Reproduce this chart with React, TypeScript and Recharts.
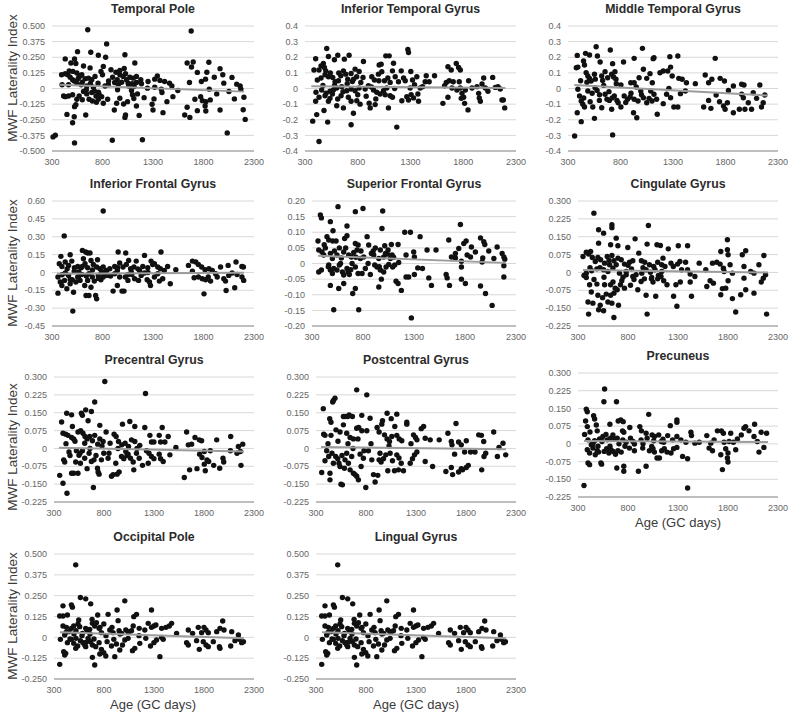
import React from "react";
import { ScatterChart, Scatter, XAxis, YAxis, CartesianGrid } from "recharts";

// age on x (GC days), MWF laterality index on y
const ageTicks = [300, 800, 1300, 1800, 2300];

const tpTicks = [-0.5, -0.375, -0.25, -0.125, 0, 0.125, 0.25, 0.375, 0.5];
const tenthTicks = [-0.4, -0.3, -0.2, -0.1, 0, 0.1, 0.2, 0.3, 0.4];
const ifgTicks = [-0.45, -0.3, -0.15, 0, 0.15, 0.3, 0.45, 0.6];
const sfgTicks = [-0.2, -0.15, -0.1, -0.05, 0, 0.05, 0.1, 0.15, 0.2];
const quarterTicks = [-0.225, -0.15, -0.075, 0, 0.075, 0.15, 0.225, 0.3];
const opTicks = [-0.25, -0.125, 0, 0.125, 0.25, 0.375, 0.5];

const temporalPole = [
  [654, 0.47], [1678, 0.46], [841, 0.357], [684, 0.29], [553, 0.295], [1022, 0.27], [431, 0.237], [487, 0.204],
  [523, 0.237], [536, 0.2], [759, 0.266], [831, 0.25], [808, 0.177], [1120, 0.204], [884, 0.15], [972, 0.145],
  [1015, 0.16], [612, 0.18], [677, 0.165], [431, 0.118], [457, 0.11], [507, 0.137], [546, 0.125], [569, 0.1],
  [595, 0.11], [628, 0.078], [661, 0.083], [694, 0.07], [726, 0.097], [785, 0.137], [800, 0.11], [933, 0.13],
  [972, 0.11], [1005, 0.097], [1028, 0.118], [1071, 0.09], [1104, 0.083], [1136, 0.097], [1179, 0.07], [946, 0.07],
  [1038, 0.07], [464, 0.03], [504, 0.07], [546, 0.043], [589, 0.03], [644, 0.02], [710, 0.01], [756, 0.043],
  [825, 0.02], [858, 0.03], [920, 0.048], [956, 0.03], [1054, 0.043], [1094, 0.038], [1136, 0.048], [1186, 0.038],
  [1251, 0.056], [1317, 0.075], [1343, 0.1], [1369, 0.065], [1415, 0.056], [1464, 0.043], [1487, 0.02], [1245, 0.003],
  [1317, 0.01], [1382, -0.005], [1546, -0.016], [400, 0.03], [415, -0.06], [395, 0.11],
  [1638, 0.204], [1698, 0.212], [1681, 0.172], [1853, 0.21], [1964, 0.159], [1991, 0.11], [2082, 0.089], [2129, 0.035],
  [2163, 0.02], [2170, -0.005], [2200, -0.07], [2193, -0.17], [2213, -0.247], [2035, -0.355], [2052, -0.024], [2106, -0.083],
  [1964, -0.172], [1907, 0.09], [1833, 0.13], [1820, 0.075], [1779, 0.056], [1739, 0.129], [1661, 0.048], [1638, -0.15],
  [1614, -0.212], [1665, -0.231], [1739, -0.177], [1715, -0.086], [1772, -0.065], [1789, -0.097], [1823, -0.105], [1816, -0.14],
  [1823, -0.18], [1857, -0.005], [1931, -0.043], [2001, 0.043], [1867, -0.091],
  [431, -0.065], [464, -0.06], [504, -0.05], [546, -0.086], [569, -0.06], [612, -0.024], [644, -0.043], [667, -0.086],
  [694, -0.032], [736, -0.06], [759, -0.086], [808, -0.118], [792, -0.065], [851, -0.086], [766, -0.046], [536, -0.13],
  [523, -0.145], [448, -0.207], [634, -0.212], [504, -0.274], [520, -0.226], [333, -0.374], [310, -0.387], [523, -0.435],
  [897, -0.414], [1195, -0.41], [917, -0.172], [940, -0.118], [1009, -0.124], [972, -0.078], [1022, -0.231], [1028, -0.212],
  [1048, -0.105], [1097, -0.05], [1146, -0.043], [1136, -0.14], [1163, -0.215], [1212, -0.073], [1300, -0.172], [1291, -0.126],
  [1310, -0.083], [1399, -0.193], [1438, -0.105], [1497, -0.065], [1389, -0.032], [949, -0.01], [1087, -0.016], [1113, 0.016],
  [480, 0.09], [520, 0.06], [560, 0.08], [600, 0.05], [640, -0.01], [680, 0.04], [720, -0.02], [700, -0.1],
  [740, -0.11], [600, -0.09], [580, 0.1], [470, 0.14], [760, -0.03], [860, 0.06], [900, 0.09], [990, 0.05],
  [1060, 0.02], [1110, -0.08],
];

const inferiorTemporal = [
  [506, 0.256], [401, 0.19], [522, 0.205], [579, 0.184], [611, 0.213], [673, 0.188], [718, 0.213], [854, 0.173],
  [1003, 0.15], [1022, 0.156], [1066, 0.209], [1098, 0.209], [1275, 0.25], [1281, 0.23], [1139, 0.162], [1212, 0.113],
  [385, 0.118], [433, 0.118], [452, 0.145], [474, 0.16], [484, 0.135], [497, 0.113], [490, 0.088], [452, 0.067],
  [417, 0.054], [522, 0.075], [563, 0.071], [585, 0.043], [617, 0.05], [639, 0.082], [664, 0.113], [686, 0.092],
  [705, 0.06], [737, 0.096], [749, 0.045], [775, 0.124], [790, 0.075], [813, 0.109], [829, 0.039],
  [404, -0.024], [458, -0.01], [537, -0.018], [569, -0.01], [601, 0.003], [648, 0.012], [696, -0.014], [737, -0.003],
  [775, -0.014], [813, 0.003], [870, -0.003], [901, 0.018], [949, -0.01], [980, -0.024], [1012, -0.035], [1044, -0.014],
  [1075, 0.003], [401, -0.082], [433, -0.056], [490, -0.046], [522, -0.082], [537, -0.063], [560, -0.035], [601, -0.11],
  [664, -0.124], [610, -0.067], [642, -0.046], [711, -0.056], [737, -0.082], [791, -0.078], [822, -0.1], [373, -0.209],
  [411, -0.167], [515, -0.215], [480, -0.141], [433, -0.339], [737, -0.232], [759, -0.158], [908, -0.094], [918, -0.124],
  [965, -0.103], [971, -0.067], [1091, -0.124], [1107, -0.046], [1129, -0.056], [1170, -0.247], [1218, -0.078], [1265, -0.052],
  [1281, -0.074], [1306, -0.039], [1329, -0.06], [1376, -0.082], [1370, -0.035],
  [933, 0.075], [958, 0.054], [996, 0.092], [1028, 0.107], [1053, 0.05], [1085, 0.067], [1107, 0.039], [1129, 0.113],
  [1155, 0.075], [1186, 0.043], [1234, 0.067], [1250, 0.05], [1297, 0.003], [1303, 0.109], [1319, 0.054], [1338, 0.024],
  [1360, 0.075], [1392, 0.003], [1439, 0.043], [1449, 0.082], [1477, 0.043], [1528, 0.082], [1414, 0.012],
  [1607, -0.095], [1623, 0.018], [1639, 0.039], [1655, 0.139], [1667, 0.05], [1655, -0.056], [1686, 0.118], [1705, 0.043],
  [1734, 0.16], [1756, 0.135], [1772, 0.118], [1762, 0.043], [1772, 0.003], [1788, -0.031], [1804, -0.056], [1813, -0.095],
  [1845, -0.137], [1820, -0.01], [1851, 0.05], [1883, 0.003], [1693, 0.003], [1740, -0.01], [1781, -0.063], [1930, 0.012],
  [1946, -0.031], [1952, -0.06], [1962, -0.082], [1978, 0.029], [1994, 0.067], [2009, 0.003], [2034, -0.018], [2079, 0.071],
  [2104, 0.007], [2129, 0.012], [2151, -0.003], [2167, -0.074], [2180, -0.074], [2193, -0.124],
  [470, 0.02], [500, -0.03], [540, 0.1], [580, 0.02], [620, 0.1], [660, -0.02], [700, 0.03], [760, 0.06],
  [800, -0.04], [850, 0.07], [880, -0.05], [930, 0.01], [1000, 0.05], [1060, -0.04], [1150, 0.0],
];

const middleTemporal = [
  [363, -0.304], [725, -0.297], [426, -0.212], [388, -0.155], [552, -0.191], [955, -0.187], [924, -0.155], [1150, -0.165],
  [568, 0.267], [703, 0.246], [1009, 0.257], [388, 0.212], [467, 0.225], [505, 0.214], [580, 0.208], [379, 0.133],
  [394, 0.137], [448, 0.176], [457, 0.15], [606, 0.17], [725, 0.159], [829, 0.17], [930, 0.193], [1111, 0.191],
  [1119, 0.197], [1270, 0.204], [1346, 0.208], [1702, 0.193], [1277, 0.137],
  [473, 0.101], [489, 0.08], [505, 0.065], [520, 0.048], [552, 0.091], [621, 0.08], [630, 0.052], [653, 0.108],
  [678, 0.069], [716, 0.091], [734, 0.074], [747, 0.108], [757, 0.059], [804, 0.022], [898, 0.037], [930, 0.037],
  [977, 0.069], [1018, 0.123], [1050, 0.065], [1081, 0.095], [1103, 0.037], [1176, 0.101], [1207, 0.112], [1250, 0.112],
  [1292, 0.08], [1355, 0.065], [1387, 0.059], [1428, 0.037], [1513, 0.031], [1607, 0.086], [1639, 0.037], [1670, 0.059],
  [1749, 0.065], [1790, 0.048], [1875, 0.016], [1954, 0.027], [1976, 0.022], [2127, 0.022],
  [394, -0.005], [410, -0.048], [426, -0.08], [441, -0.101], [457, -0.118], [489, -0.016], [511, -0.085], [536, -0.118],
  [558, 0.005], [577, -0.012], [599, -0.076], [621, -0.123], [653, -0.037], [671, -0.069], [694, -0.076], [716, -0.133],
  [741, -0.048], [766, -0.076], [778, -0.091], [804, -0.118], [835, -0.048], [867, -0.069], [892, -0.054], [930, -0.069],
  [967, -0.08], [993, -0.016], [1018, -0.059], [1050, -0.091], [1072, -0.063], [1088, -0.016], [1119, -0.037], [1144, -0.069],
  [1207, -0.097], [1239, -0.037], [1261, 0.001], [1277, -0.059], [1308, -0.118], [1346, -0.118], [1371, -0.033], [1418, -0.016],
  [1592, -0.118], [1639, -0.076], [1661, -0.127], [1711, -0.042], [1743, -0.085], [1781, -0.112], [1796, -0.133], [1818, -0.091],
  [1828, -0.012], [1875, -0.155], [1932, -0.133], [1954, -0.037], [1985, -0.133], [2017, -0.091], [2048, -0.133], [2064, -0.027],
  [2096, -0.063], [2143, -0.118], [2159, -0.091], [2174, -0.042], [1970, -0.059],
  [420, 0.05], [450, -0.06], [480, 0.04], [530, -0.03], [560, 0.06], [600, -0.04], [640, 0.02], [690, -0.02],
  [720, -0.06], [760, 0.03], [850, -0.09], [900, -0.03], [950, 0.01], [1000, -0.04], [1100, -0.08],
];

const inferiorFrontal = [
  [807, 0.516], [421, 0.307], [506, -0.325], [359, -0.174], [388, 0.135], [480, 0.149], [601, 0.185], [634, 0.171],
  [653, 0.163], [676, 0.163], [751, 0.107], [955, 0.171], [1030, 0.163], [1216, 0.143], [1379, 0.171],
  [372, 0.073], [398, 0.05], [431, 0.087], [464, 0.059], [496, 0.095], [522, 0.039], [555, 0.05], [588, 0.039],
  [611, 0.115], [627, 0.073], [653, 0.039], [686, 0.101], [709, 0.067], [742, 0.045], [774, 0.031], [807, 0.045],
  [840, 0.017], [872, 0.031], [921, 0.05], [947, 0.017], [970, 0.079], [1003, 0.045], [1036, 0.067], [1059, 0.101],
  [1078, 0.031], [1111, 0.045], [1134, 0.095], [1167, 0.017], [1199, 0.05], [1248, 0.039], [1281, 0.095], [1297, 0.067],
  [1314, 0.073], [1347, 0.045], [1373, 0.031], [1412, 0.017], [1445, 0.05], [1526, 0.022],
  [1651, 0.059], [1690, 0.095], [1723, 0.087], [1749, 0.067], [1782, 0.045], [1815, 0.022], [1854, 0.031], [1887, 0.017],
  [1969, 0.045], [2044, 0.059], [2122, 0.087], [2180, 0.05], [2195, 0.045],
  [359, -0.039], [382, -0.081], [398, -0.11], [424, -0.067], [447, -0.137], [464, -0.025], [480, -0.095], [500, -0.062],
  [513, -0.166], [536, -0.081], [555, -0.039], [578, -0.067], [594, -0.017], [624, -0.11], [637, -0.194], [653, -0.067],
  [666, -0.194], [686, -0.124], [699, -0.039], [719, -0.073], [732, -0.194], [742, -0.222], [758, -0.025], [784, -0.062],
  [807, -0.039], [850, -0.025], [905, -0.157], [947, -0.11], [970, -0.039], [993, -0.157], [1013, -0.157], [1026, -0.039],
  [1052, -0.067], [1091, -0.017], [1118, -0.053], [1157, -0.067], [1183, -0.025], [1242, -0.062], [1265, -0.081], [1275, -0.11],
  [1314, -0.039], [1363, -0.073], [1396, -0.053], [1471, -0.095],
  [1707, -0.045], [1749, -0.039], [1788, -0.053], [1805, -0.18], [1821, -0.062], [1847, -0.039], [1870, -0.073], [1936, -0.039],
  [2001, -0.053], [2018, -0.073], [2024, -0.152], [2050, -0.025], [2109, -0.129], [2132, -0.017], [2181, -0.039], [2198, -0.067],
  [431, -0.005], [565, 0.003], [666, -0.011], [791, 0.003], [921, -0.011], [1085, 0.003], [1216, -0.005], [1347, -0.011],
  [1690, 0.011], [1920, -0.011], [2083, -0.005],
  [400, -0.02], [450, 0.03], [480, -0.06], [520, 0.01], [560, -0.04], [600, 0.05], [640, -0.03], [700, 0.02],
  [760, -0.05], [820, 0.0], [880, -0.03], [950, 0.04], [1050, -0.02], [1150, 0.03], [1250, 0.0],
];

const superiorFrontal = [
  [555, 0.182], [800, 0.176], [725, 0.166], [993, 0.168], [382, 0.155], [392, 0.146], [480, 0.134], [1755, 0.125],
  [986, 0.112], [506, 0.105], [643, 0.12], [359, 0.072], [447, 0.086], [464, 0.075], [503, 0.072], [536, 0.072],
  [568, 0.05], [620, 0.08], [643, 0.089], [725, 0.064], [752, 0.059], [840, 0.086], [856, 0.059], [921, 0.05],
  [970, 0.043], [1013, 0.057], [1046, 0.043], [1078, 0.061], [1144, 0.061], [1209, 0.1], [1265, 0.1], [1297, 0.037],
  [1360, 0.086], [1428, 0.043], [1516, 0.043], [1641, 0.075], [1667, 0.021], [1706, 0.032], [1739, 0.048], [1788, 0.064],
  [1811, 0.072], [1863, 0.053], [1902, 0.037], [1952, 0.082], [1984, 0.07], [1994, 0.061], [2033, 0.04], [2115, 0.053],
  [2164, 0.032], [2190, 0.014],
  [366, 0.043], [398, 0.037], [415, 0.027], [431, 0.05], [480, 0.032], [500, 0.016], [545, 0.027], [588, 0.018],
  [611, 0.037], [660, 0.027], [686, 0.021], [709, 0.035], [742, 0.043], [774, 0.016], [807, 0.021], [882, 0.032],
  [905, 0.027], [955, 0.016], [1003, 0.021], [1020, 0.032], [1069, 0.016], [1085, 0.027], [1150, 0.003], [1222, 0.027],
  [1304, 0.021], [1706, 0.018], [1765, 0.007], [1821, 0.027], [1854, 0.021], [1968, 0.005], [1974, 0.018], [2083, 0.016],
  [2181, 0.021],
  [366, -0.027], [392, -0.021], [464, -0.005], [480, -0.021], [500, -0.032], [513, -0.016], [545, -0.021], [568, -0.005],
  [598, -0.027], [611, -0.037], [643, -0.016], [653, -0.027], [666, -0.035], [693, 0.0], [725, -0.011], [752, -0.032],
  [791, -0.032], [823, -0.016], [872, -0.035], [915, -0.005], [938, -0.011], [970, -0.021], [1003, -0.027], [1026, -0.011],
  [1052, -0.003], [1091, -0.011], [1111, -0.005], [1124, -0.057], [1144, -0.064], [1176, -0.086], [1248, -0.043], [1304, -0.035],
  [1337, -0.014], [1383, -0.016], [1445, -0.046], [1471, -0.07], [1615, -0.035], [1625, -0.046], [1648, -0.07], [1765, -0.011],
  [1765, -0.05], [1804, -0.064], [1952, -0.072], [2001, -0.096], [2066, -0.134], [2181, -0.043], [2181, -0.007],
  [562, -0.08], [611, -0.064], [699, -0.096], [725, -0.08], [758, -0.148], [513, -0.148], [955, -0.075], [980, -0.05],
  [1274, -0.174], [1222, -0.043], [480, -0.07],
  [420, 0.06], [460, -0.01], [520, 0.04], [580, 0.0], [630, 0.05], [680, -0.02], [730, 0.02], [780, 0.04],
  [850, 0.0], [900, 0.04], [960, -0.01], [1040, 0.03], [1100, 0.02],
];

const cingulate = [
  [459, 0.249], [639, 0.2], [639, 0.188], [1004, 0.197], [506, 0.179], [556, 0.165], [682, 0.144], [871, 0.141],
  [1794, 0.137], [506, 0.123], [626, 0.116], [699, 0.112], [798, 0.105], [991, 0.119], [1090, 0.116], [1124, 0.113],
  [1203, 0.099], [1303, 0.112], [1396, 0.112], [1728, 0.088], [1794, 0.095], [1801, 0.074], [1943, 0.074], [1977, 0.091],
  [2159, 0.071],
  [350, 0.067], [383, 0.085], [406, 0.077], [426, 0.088], [443, 0.063], [473, 0.046], [499, 0.063], [526, 0.053],
  [566, 0.039], [592, 0.067], [616, 0.032], [639, 0.071], [659, 0.049], [682, 0.032], [732, 0.053], [765, 0.035],
  [815, 0.043], [848, 0.049], [908, 0.081], [934, 0.049], [967, 0.043], [1014, 0.032], [1057, 0.025], [1097, 0.043],
  [1137, 0.032], [1170, 0.025], [1230, 0.039], [1253, 0.025], [1296, 0.035], [1319, 0.046], [1376, 0.043], [1396, 0.011],
  [1512, 0.039], [1645, 0.039], [1688, 0.043], [1721, 0.035], [1754, 0.018], [1821, 0.032], [1960, 0.025], [2109, 0.032],
  [383, -0.003], [436, 0.007], [489, 0.015], [556, 0.011], [599, 0.004], [649, 0.018], [715, -0.003], [782, 0.004],
  [835, 0.015], [881, -0.01], [938, -0.003], [981, 0.011], [1024, 0.001], [1070, 0.011], [1104, -0.013], [1137, 0.004],
  [1336, 0.011], [1422, -0.007], [1469, -0.017], [1578, 0.011], [1761, 0.004], [1844, -0.003], [2027, 0.004], [2060, -0.003],
  [2176, -0.01],
  [360, -0.013], [383, -0.021], [416, -0.052], [433, -0.082], [400, -0.124], [406, -0.175], [449, -0.129], [489, -0.049],
  [499, -0.096], [506, -0.157], [522, -0.138], [546, -0.106], [556, -0.161], [566, -0.052], [582, -0.091], [599, -0.124],
  [626, -0.052], [639, -0.129], [659, -0.087], [672, -0.066], [692, -0.073], [705, -0.138], [725, -0.052], [738, -0.035],
  [659, -0.189], [626, -0.096], [765, -0.066], [782, -0.01], [825, -0.054], [848, -0.017], [898, -0.073], [931, -0.038],
  [964, -0.027], [981, -0.096], [991, -0.175], [1034, -0.027], [1037, -0.021], [1077, -0.1], [1097, -0.027], [1130, -0.017],
  [1157, -0.035], [1190, -0.052], [1256, -0.1], [1279, -0.052], [1289, -0.142], [1323, -0.04], [1422, -0.04], [1435, -0.1],
  [1588, -0.059], [1621, -0.035], [1654, -0.045], [1728, -0.094], [1744, -0.068], [1777, -0.066], [1801, -0.035], [1844, -0.11],
  [1877, -0.166], [1927, -0.094], [1960, -0.024], [1977, -0.073], [2060, -0.087], [2133, -0.04], [2153, -0.024], [2186, -0.175],
  [420, 0.02], [460, -0.03], [520, 0.02], [560, -0.02], [610, 0.05], [650, -0.04], [700, 0.06], [750, -0.02],
  [800, 0.03], [860, -0.03], [950, 0.02], [1050, -0.04], [1150, 0.06],
];

const precentral = [
  [808, 0.281], [1215, 0.231], [707, 0.195], [617, 0.162], [674, 0.155], [574, 0.148], [584, 0.139], [427, 0.148],
  [476, 0.141], [376, 0.111], [641, 0.116], [758, 0.097], [985, 0.102], [1058, 0.113], [1108, 0.092], [1208, 0.088],
  [1382, 0.088], [1626, 0.069], [2067, 0.05],
  [390, 0.064], [417, 0.06], [440, 0.055], [476, 0.046], [497, 0.04], [484, 0.092], [540, 0.069], [567, 0.074],
  [590, 0.064], [607, 0.022], [631, 0.04], [657, 0.05], [684, 0.032], [707, 0.055], [737, 0.018], [758, 0.04],
  [791, 0.029], [821, 0.069], [861, 0.022], [901, 0.06], [921, 0.05], [945, 0.029], [978, 0.015], [1011, 0.022],
  [1045, 0.008], [1075, 0.036], [1108, 0.029], [1158, 0.013], [1259, 0.055], [1275, 0.027], [1299, 0.027], [1352, 0.055],
  [1366, 0.027], [1409, 0.027], [1442, 0.05], [1519, 0.004], [1643, 0.015], [1676, 0.018], [1710, 0.046], [1753, 0.036],
  [1776, 0.032], [1927, 0.036], [2144, 0.008], [2187, 0.018],
  [357, -0.113], [390, -0.146], [430, -0.188], [397, -0.048], [407, -0.057], [450, -0.015], [476, -0.104], [497, -0.104],
  [517, -0.057], [524, -0.01], [540, -0.104], [550, -0.029], [564, -0.062], [584, -0.01], [607, -0.041], [631, -0.085],
  [651, -0.02], [674, -0.055], [694, -0.164], [700, -0.048], [741, -0.099], [735, -0.083], [751, -0.108], [774, -0.048],
  [798, -0.02], [841, -0.041], [875, -0.117], [891, -0.11], [918, -0.062], [931, -0.108], [951, -0.099], [975, -0.034],
  [998, -0.043], [1018, -0.013], [1041, -0.024], [1065, -0.041], [1092, -0.057], [1098, -0.09], [1125, -0.02], [1152, -0.041],
  [1185, -0.071], [1225, -0.01], [1242, -0.062], [1275, -0.034], [1299, -0.043], [1352, -0.024], [1366, -0.043], [1392, -0.055],
  [1459, -0.027], [1603, -0.122], [1656, -0.09], [1730, -0.085], [1756, -0.024], [1780, -0.038], [1803, -0.066], [1813, -0.094],
  [1830, -0.048], [1847, -0.055], [1897, -0.071], [1957, -0.083], [1990, -0.041], [1997, -0.057], [2064, -0.01], [2130, -0.02],
  [2170, -0.071], [2164, -0.013], [1803, -0.013], [1863, -0.01],
  [420, 0.02], [460, -0.03], [510, 0.03], [560, -0.02], [610, 0.05], [660, 0.0], [720, -0.03], [780, 0.01],
  [850, -0.02], [940, 0.0], [1030, -0.03], [1130, 0.0], [1250, -0.02],
];

const postcentral = [
  [707, 0.246], [808, 0.225], [490, 0.211], [474, 0.201], [467, 0.195], [373, 0.167], [437, 0.125], [450, 0.11],
  [591, 0.134], [631, 0.141], [617, 0.134], [574, 0.134], [664, 0.134], [758, 0.139], [841, 0.127], [1011, 0.148],
  [1108, 0.144], [1052, 0.125], [965, 0.116], [1208, 0.11], [1208, 0.102], [1700, 0.105],
  [377, 0.06], [390, 0.055], [450, 0.055], [500, 0.078], [540, 0.069], [574, 0.099], [607, 0.064], [641, 0.046],
  [674, 0.04], [707, 0.085], [727, 0.088], [758, 0.074], [808, 0.074], [911, 0.088], [931, 0.069], [958, 0.102],
  [985, 0.057], [1011, 0.04], [1035, 0.029], [1058, 0.05], [1088, 0.092], [1108, 0.055], [1132, 0.04], [1158, 0.032],
  [1275, 0.057], [1295, 0.046], [1309, 0.036], [1352, 0.083], [1376, 0.092], [1392, 0.043], [1442, 0.036], [1532, 0.036],
  [1619, 0.064], [1653, 0.029], [1660, 0.015], [1726, 0.027], [1753, 0.015], [1803, 0.032], [1927, 0.057], [1954, 0.055],
  [1977, 0.029], [2077, 0.069], [2170, 0.022], [2130, 0.004],
  [357, -0.101], [390, -0.052], [407, -0.01], [427, -0.034], [440, -0.104], [440, -0.132], [474, -0.062], [497, -0.034],
  [517, -0.043], [530, -0.062], [540, -0.076], [550, -0.15], [564, -0.153], [584, -0.083], [590, -0.048], [607, -0.02],
  [624, -0.062], [641, -0.09], [657, -0.034], [674, -0.104], [691, -0.11], [707, -0.117], [724, -0.132], [741, -0.024],
  [751, -0.076], [774, -0.041], [798, -0.164], [824, -0.01], [858, -0.048], [875, -0.11], [891, -0.141], [918, -0.113],
  [931, -0.048], [951, -0.057], [975, -0.043], [998, -0.027], [1018, -0.094], [1041, -0.02], [1065, -0.052], [1085, -0.094],
  [1108, -0.027], [1125, -0.09], [1152, -0.062], [1175, -0.094], [1242, -0.062], [1265, -0.043], [1285, -0.027], [1309, -0.015],
  [1392, -0.055], [1466, -0.076], [1599, -0.097], [1653, -0.08], [1666, -0.11], [1686, -0.024], [1726, -0.099], [1753, -0.085],
  [1766, -0.09], [1786, -0.015], [1803, -0.08], [1823, -0.071], [1846, -0.015], [1890, -0.015], [1957, -0.09], [1980, -0.034],
  [1997, -0.02], [2114, -0.034], [2197, -0.027],
  [420, 0.02], [460, -0.02], [520, 0.03], [560, -0.03], [620, 0.02], [670, 0.0], [720, 0.04], [780, -0.01],
  [850, 0.02], [940, -0.02], [1030, 0.01], [1130, -0.04], [1250, 0.02],
];

const precuneus = [
  [566, 0.232], [559, 0.178], [685, 0.178], [383, 0.147], [393, 0.136], [1007, 0.125], [456, 0.119], [466, 0.105],
  [1289, 0.101], [1289, 0.091], [376, 0.097], [393, 0.073], [619, 0.083], [483, 0.08], [492, 0.055], [702, 0.097],
  [728, 0.101], [752, 0.094], [745, 0.055], [758, 0.049], [818, 0.069], [918, 0.073], [934, 0.055], [981, 0.045],
  [1041, 0.038], [1064, 0.031], [1107, 0.038], [1197, 0.035], [1223, 0.077], [1289, 0.031], [1429, 0.049], [1435, 0.035],
  [1588, 0.035], [1694, 0.055], [1734, 0.055], [1754, 0.045], [1827, 0.045], [1933, 0.038], [1960, 0.066], [1976, 0.073],
  [2010, 0.055], [2066, 0.083], [2132, 0.049], [2186, 0.045],
  [366, 0.04], [400, 0.017], [433, -0.004], [466, 0.013], [516, 0.021], [549, 0.031], [592, 0.017], [625, 0.024],
  [649, 0.038], [692, 0.024], [748, 0.017], [781, 0.007], [825, 0.024], [864, -0.001], [931, 0.017], [991, 0.024],
  [1057, 0.013], [1133, 0.01], [1157, 0.007], [1246, 0.017], [1329, 0.017], [1379, 0.007], [1469, 0.003], [1512, 0.007],
  [1628, 0.003], [1661, 0.017], [1761, 0.007], [1811, 0.01], [1854, 0.007], [1894, 0.021], [2060, 0.031], [2093, 0.01],
  [360, -0.176], [400, -0.081], [416, -0.088], [393, -0.025], [416, -0.039], [449, -0.018], [473, -0.046], [492, -0.029],
  [506, -0.035], [529, -0.081], [536, -0.086], [562, -0.032], [586, -0.021], [609, -0.039], [629, -0.025], [652, -0.032],
  [675, -0.044], [688, -0.102], [699, -0.029], [732, -0.035], [758, -0.095], [758, -0.116], [814, -0.018], [864, -0.029],
  [904, -0.116], [947, -0.018], [981, -0.095], [1014, -0.029], [1037, -0.011], [1064, -0.035], [1090, -0.06], [1114, -0.06],
  [1137, -0.029], [1163, -0.021], [1190, -0.035], [1230, -0.039], [1256, -0.021], [1289, -0.015], [1346, -0.053], [1396, -0.063],
  [1396, -0.187], [1611, -0.018], [1645, -0.029], [1728, -0.046], [1744, -0.109], [1777, -0.021], [1794, -0.06], [1800, -0.077],
  [1800, -0.039], [1877, -0.025], [2110, -0.035], [2159, -0.015],
  [420, 0.05], [450, 0.0], [500, -0.01], [540, 0.01], [580, 0.04], [620, -0.01], [660, 0.02], [710, 0.0],
  [770, -0.01], [850, 0.01], [950, 0.0], [1050, -0.02], [1150, 0.02],
];

// occipital pole and lingual gyrus panels show the same scatter
const occipitalPole = [
  [517, 0.435], [564, 0.239], [617, 0.231], [667, 0.201], [474, 0.195], [484, 0.181], [1008, 0.219], [390, 0.189],
  [357, 0.128], [390, 0.128], [434, 0.134], [547, 0.104], [681, 0.108], [737, 0.134], [841, 0.138], [931, 0.164],
  [1098, 0.124], [1125, 0.138], [1275, 0.164], [1987, 0.098],
  [390, 0.068], [424, 0.06], [450, 0.034], [474, 0.054], [497, 0.068], [520, 0.04], [557, 0.064], [584, 0.024],
  [617, 0.054], [631, 0.04], [657, 0.048], [684, 0.084], [707, 0.068], [724, 0.088], [751, 0.054], [774, 0.028],
  [798, 0.08], [858, 0.044], [891, 0.028], [941, 0.1], [951, 0.04], [975, 0.024], [1018, 0.044], [1041, 0.034],
  [1075, 0.04], [1092, 0.068], [1152, 0.054], [1208, 0.044], [1242, 0.084], [1275, 0.06], [1299, 0.068], [1319, 0.074],
  [1376, 0.054], [1419, 0.06], [1453, 0.068], [1476, 0.084], [1526, 0.024], [1643, 0.044], [1686, 0.024], [1743, 0.06],
  [1776, 0.028], [1800, 0.06], [1820, 0.044], [1843, 0.028], [1927, 0.034], [1960, 0.054], [2000, 0.044], [2077, 0.034],
  [2144, 0.014],
  [364, -0.012], [407, 0.014], [434, -0.032], [474, -0.012], [497, -0.036], [520, -0.006], [537, -0.052], [564, -0.02],
  [590, -0.032], [617, -0.056], [641, -0.006], [664, -0.026], [684, -0.046], [717, -0.056], [751, -0.032], [774, -0.072],
  [798, -0.092], [831, -0.026], [875, -0.052], [898, -0.012], [924, -0.04], [958, -0.076], [985, -0.046], [1008, -0.016],
  [1041, -0.006], [1085, -0.08], [1108, -0.066], [1158, -0.036], [1218, -0.006], [1265, -0.052], [1299, -0.032], [1325, -0.016],
  [1376, 0.0], [1392, -0.012], [1359, -0.116], [1626, -0.032], [1643, -0.046], [1726, -0.02], [1753, -0.072], [1793, -0.026],
  [1820, -0.046], [1843, -0.056], [1893, -0.026], [1954, -0.056], [1960, -0.066], [2067, -0.052], [2110, -0.02], [2177, -0.032],
  [2194, -0.026], [2154, -0.012],
  [357, -0.162], [397, -0.086], [407, -0.106], [417, -0.096], [684, -0.12], [707, -0.166], [758, -0.1], [818, -0.112],
  [908, -0.116], [517, -0.066], [607, -0.046],
  [420, 0.03], [460, -0.01], [500, 0.02], [540, 0.08], [580, 0.01], [620, -0.03], [660, 0.02], [700, -0.01],
  [760, 0.06], [820, 0.01], [880, 0.06], [960, 0.02], [1050, 0.03], [1150, 0.01],
];

// fitted trend lines, endpoints
const tpTrend = [[380, 0.03], [2200, -0.025]];
const itgTrend = [[360, 0.015], [2200, 0.003]];
const mtgTrend = [[360, 0.022], [2200, -0.045]];
const ifgTrend = [[350, -0.012], [2200, -0.003]];
const sfgTrend = [[360, 0.025], [2200, 0.002]];
const cgTrend = [[350, 0.01], [2200, 0.0]];
const precTrend = [[350, 0.003], [2200, -0.013]];
const postcTrend = [[350, 0.006], [2200, -0.003]];
const pcunTrend = [[360, 0.012], [2200, 0.008]];
const opTrend = [[360, 0.03], [2200, -0.005]];

const toPts = (arr: number[][]) => arr.map(([x, y]) => ({ x, y }));

const panels = [
  { title: "Temporal Pole", pts: temporalPole, trend: tpTrend, ticks: tpTicks, dec: 3, box: [52, 254, 26, 151] },
  { title: "Inferior Temporal Gyrus", pts: inferiorTemporal, trend: itgTrend, ticks: tenthTicks, dec: 1, box: [305, 516, 26, 151] },
  { title: "Middle Temporal Gyrus", pts: middleTemporal, trend: mtgTrend, ticks: tenthTicks, dec: 1, box: [568, 778, 26, 151] },
  { title: "Inferior Frontal Gyrus", pts: inferiorFrontal, trend: ifgTrend, ticks: ifgTicks, dec: 2, box: [52, 254, 201, 326] },
  { title: "Superior Frontal Gyrus", pts: superiorFrontal, trend: sfgTrend, ticks: sfgTicks, dec: 2, box: [312, 516, 201, 326] },
  { title: "Cingulate Gyrus", pts: cingulate, trend: cgTrend, ticks: quarterTicks, dec: 3, box: [578, 778, 201, 326] },
  { title: "Precentral Gyrus", pts: precentral, trend: precTrend, ticks: quarterTicks, dec: 3, box: [54, 254, 377, 502] },
  { title: "Postcentral Gyrus", pts: postcentral, trend: postcTrend, ticks: quarterTicks, dec: 3, box: [316, 516, 377, 502] },
  { title: "Precuneus", pts: precuneus, trend: pcunTrend, ticks: quarterTicks, dec: 3, box: [578, 778, 373, 497] },
  { title: "Occipital Pole", pts: occipitalPole, trend: opTrend, ticks: opTicks, dec: 3, box: [54, 254, 554, 679] },
  { title: "Lingual Gyrus", pts: occipitalPole, trend: opTrend, ticks: opTicks, dec: 3, box: [316, 516, 554, 679] },
];

const YW = 44;
const TM = 5;
const RM = 18;
const XH = 24;
const font = "'Liberation Sans', Arial, Helvetica, sans-serif";
const tickStyle = { fontSize: 9, fill: "#666", fontFamily: font };

function Dot(props: any) {
  if (props.cx == null || props.cy == null) return <g />;
  return <circle cx={props.cx} cy={props.cy} r={2.7} fill="#111" />;
}

function Panel({ p }: { p: (typeof panels)[number] }) {
  const [l, r, t, b] = p.box;
  const min = p.ticks[0];
  const max = p.ticks[p.ticks.length - 1];
  const fmt = (v: number) => (v === 0 ? "0" : v.toFixed(p.dec));
  return (
    <>
      <div
        style={{
          position: "absolute",
          left: l,
          width: r - l,
          top: t - 25,
          lineHeight: "16px",
          textAlign: "center",
          fontSize: 12.3,
          fontWeight: 700,
          color: "#2b2b2b",
          whiteSpace: "nowrap",
        }}
      >
        {p.title}
      </div>
      <div style={{ position: "absolute", left: l - YW, top: t - TM }}>
        <ScatterChart
          width={r - l + YW + RM}
          height={b - t + TM + XH}
          margin={{ top: TM, right: RM, bottom: 0, left: 0 }}
        >
          <CartesianGrid vertical={false} stroke="#d8d8d8" horizontalValues={p.ticks.slice(1)} />
          <XAxis
            type="number"
            dataKey="x"
            domain={[300, 2300]}
            ticks={ageTicks}
            interval={0}
            height={XH}
            tickLine={false}
            tickSize={0}
            tickMargin={8}
            axisLine={{ stroke: "#a8a8a8", strokeWidth: 1.5 }}
            tick={tickStyle}
          />
          <YAxis
            type="number"
            dataKey="y"
            domain={[min, max]}
            ticks={p.ticks}
            interval={0}
            width={YW}
            tickLine={false}
            tickSize={0}
            tickMargin={7}
            axisLine={false}
            tickFormatter={fmt}
            tick={tickStyle}
          />
          <Scatter data={toPts(p.pts)} shape={Dot} isAnimationActive={false} />
          <Scatter
            data={toPts(p.trend)}
            line={{ stroke: "#9c9c9c", strokeWidth: 2 }}
            shape={() => <g />}
            isAnimationActive={false}
          />
        </ScatterChart>
      </div>
    </>
  );
}

const yLabelRows = [78, 263, 447, 616];
const xLabels = [
  { cx: 678, cy: 522 },
  { cx: 153, cy: 704 },
  { cx: 416, cy: 704 },
];

export default function App() {
  return (
    <div
      style={{
        position: "absolute",
        left: 0,
        top: 0,
        width: 789,
        height: 715,
        background: "#fff",
        fontFamily: font,
        overflow: "hidden",
      }}
    >
      {panels.map((p) => (
        <Panel key={p.title} p={p} />
      ))}
      {yLabelRows.map((cy) => (
        <div
          key={cy}
          style={{
            position: "absolute",
            left: 12,
            top: cy,
            transform: "translate(-50%, -50%) rotate(-90deg)",
            fontSize: 13.5,
            color: "#3a3a3a",
            whiteSpace: "nowrap",
          }}
        >
          MWF Laterality Index
        </div>
      ))}
      {xLabels.map((xl) => (
        <div
          key={xl.cx + "-" + xl.cy}
          style={{
            position: "absolute",
            left: xl.cx,
            top: xl.cy,
            transform: "translate(-50%, -50%)",
            fontSize: 13,
            color: "#3a3a3a",
            whiteSpace: "nowrap",
          }}
        >
          Age (GC days)
        </div>
      ))}
    </div>
  );
}
